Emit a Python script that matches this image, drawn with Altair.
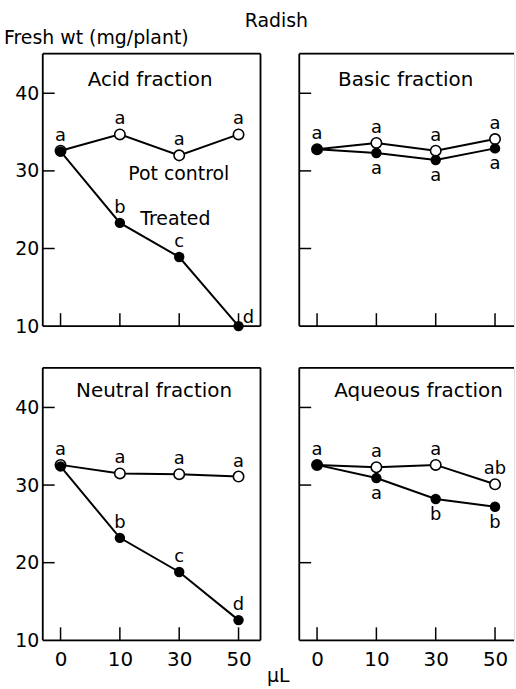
import altair as alt
import pandas as pd

# ---------------- data ----------------
doses = ["0", "10", "30", "50"]
y_tick_values = [20, 30, 40]
y_label_values = [10, 20, 30, 40]

panel_titles = ["Acid fraction", "Basic fraction", "Neutral fraction", "Aqueous fraction"]

acid_control = [32.6, 34.7, 32.0, 34.7]
acid_treated = [32.5, 23.3, 18.9, 10.0]
acid_control_letters = ["a", "a", "a", "a"]
acid_treated_letters = ["", "b", "c", "d"]
acid_treated_place = ["above", "above", "above", "right"]

basic_control = [32.8, 33.6, 32.6, 34.1]
basic_treated = [32.8, 32.3, 31.4, 32.9]
basic_control_letters = ["a", "a", "a", "a"]
basic_treated_letters = ["", "a", "a", "a"]
basic_treated_place = ["below", "below", "below", "below"]

neutral_control = [32.6, 31.5, 31.4, 31.1]
neutral_treated = [32.4, 23.2, 18.8, 12.6]
neutral_control_letters = ["a", "a", "a", "a"]
neutral_treated_letters = ["", "b", "c", "d"]
neutral_treated_place = ["above", "above", "above", "above"]

aqueous_control = [32.6, 32.3, 32.6, 30.1]
aqueous_treated = [32.6, 30.9, 28.2, 27.2]
aqueous_control_letters = ["a", "a", "a", "ab"]
aqueous_treated_letters = ["", "a", "b", "b"]
aqueous_treated_place = ["below", "below", "below", "below"]

series_names = ["Pot control", "Treated"]

# ---------------- layout ----------------
FONT = "DejaVu Sans"
W_L, W_R, H = 219, 216, 274
X_DOM_L = [-0.3, 3.37]
X_DOM_R = [-0.3, 3.32]
Y_DOM = [10, 45.1]
one = pd.DataFrame({"k": [0]})
label_expr = "[" + ",".join("'%s'" % d for d in doses) + "][datum.value]"


def anchor(x, y):
    # tiny white rule that pins the page bounds
    return alt.Chart(one).mark_rule(color="white", strokeWidth=0.01).encode(
        x=alt.value(x), x2=alt.value(x), y=alt.value(y), y2=alt.value(y))


def panel(title, title_x, title_y, control, treated, c_letters, t_letters, t_place,
          w, x_dom, show_x, show_y, right_border, extras=()):
    rows = []
    for i in range(len(doses)):
        rows.append(dict(i=i, series=series_names[0], v=control[i],
                         letter=c_letters[i], place="above"))
        rows.append(dict(i=i, series=series_names[1], v=treated[i],
                         letter=t_letters[i], place=t_place[i]))
    df = pd.DataFrame(rows)
    xs = alt.Scale(domain=x_dom, nice=False, zero=False)
    ys = alt.Scale(domain=Y_DOM, nice=False, zero=False)
    x_axis = alt.Axis(values=[0, 1, 2, 3], labelExpr=label_expr, ticks=False, domain=False,
                      grid=False, title=None, labelFontSize=20, labelColor="black",
                      labelPadding=9, labelFont=FONT) if show_x else None
    y_axis = alt.Axis(values=y_label_values, ticks=False, domain=False, grid=False,
                      title=None, labelFontSize=19, labelColor="black", labelPadding=4,
                      labelFont=FONT) if show_y else None

    base = alt.Chart(df).encode(
        x=alt.X("i:Q", scale=xs, axis=x_axis),
        y=alt.Y("v:Q", scale=ys, axis=y_axis),
    )
    lines = base.mark_line(color="black", strokeWidth=2).encode(detail="series:N")
    ctrl = base.transform_filter(alt.datum.series == series_names[0]).mark_circle(
        size=110, fill="white", stroke="black", strokeWidth=1.6, opacity=1)
    trt = base.transform_filter(alt.datum.series == series_names[1]).mark_circle(
        size=110, color="black", opacity=1)

    letter_layers = []
    offsets = {"above": (0, -15), "below": (0, 16), "right": (10, -8)}
    for p, (dx, dy) in offsets.items():
        letter_layers.append(
            base.transform_filter((alt.datum.place == p) & (alt.datum.letter != ""))
            .mark_text(dx=dx, dy=dy, fontSize=18, font=FONT, color="black")
            .encode(text="letter:N")
        )

    yticks = alt.Chart(pd.DataFrame({"v": y_tick_values})).mark_rule(
        color="black", strokeWidth=1.5).encode(
        y=alt.Y("v:Q", scale=ys, axis=y_axis), x=alt.value(0), x2=alt.value(12))
    xticks = alt.Chart(pd.DataFrame({"i": list(range(len(doses)))})).mark_rule(
        color="black", strokeWidth=1.5).encode(
        x=alt.X("i:Q", scale=xs, axis=x_axis), y=alt.value(H), y2=alt.value(H - 13))

    border = [
        alt.Chart(one).mark_rule(color="black", strokeWidth=1.8).encode(
            x=alt.value(0), y=alt.value(0), y2=alt.value(H)),
        alt.Chart(one).mark_rule(color="black", strokeWidth=1.8).encode(
            x=alt.value(0), x2=alt.value(w), y=alt.value(0)),
        alt.Chart(one).mark_rule(color="black", strokeWidth=1.8).encode(
            x=alt.value(0), x2=alt.value(w), y=alt.value(H)),
    ]
    if right_border:
        border.append(alt.Chart(one).mark_rule(color="black", strokeWidth=1.8).encode(
            x=alt.value(w), y=alt.value(0), y2=alt.value(H)))

    ttl = alt.Chart(one).mark_text(fontSize=20, font=FONT, color="black").encode(
        x=alt.value(title_x), y=alt.value(title_y), text=alt.value(title))

    layers = [lines] + border + [yticks, xticks, ctrl, trt] + letter_layers + [ttl] + list(extras)
    return alt.layer(*layers).properties(width=w, height=H)


top_extras = [
    alt.Chart(one).mark_text(fontSize=19, font=FONT, align="left", color="black").encode(
        x=alt.value(86), y=alt.value(121), text=alt.value(series_names[0])),
    alt.Chart(one).mark_text(fontSize=19, font=FONT, align="left", color="black").encode(
        x=alt.value(98), y=alt.value(166), text=alt.value(series_names[1])),
    alt.Chart(one).mark_text(fontSize=19, font=FONT, color="black").encode(
        x=alt.value(235), y=alt.value(-33), text=alt.value("Radish")),
    alt.Chart(one).mark_text(fontSize=19, font=FONT, align="left", color="black").encode(
        x=alt.value(-39), y=alt.value(-16), text=alt.value("Fresh wt (mg/plant)")),
    anchor(-42, -51),
]
bottom_extras = [
    alt.Chart(one).mark_text(fontSize=19, font=FONT, color="black").encode(
        x=alt.value(237), y=alt.value(310), text=alt.value("\u03bcL")),
]
bottom_right_extras = [anchor(W_R, H + 48)]

p1 = panel(panel_titles[0], 108, 26, acid_control, acid_treated, acid_control_letters,
           acid_treated_letters, acid_treated_place, W_L, X_DOM_L, False, True, True, top_extras)
p2 = panel(panel_titles[1], 107, 26, basic_control, basic_treated, basic_control_letters,
           basic_treated_letters, basic_treated_place, W_R, X_DOM_R, False, False, False)
p3 = panel(panel_titles[2], 112, 23, neutral_control, neutral_treated, neutral_control_letters,
           neutral_treated_letters, neutral_treated_place, W_L, X_DOM_L, True, True, True, bottom_extras)
p4 = panel(panel_titles[3], 120, 23, aqueous_control, aqueous_treated, aqueous_control_letters,
           aqueous_treated_letters, aqueous_treated_place, W_R, X_DOM_R, True, False, False,
           bottom_right_extras)

chart = alt.concat(p1, p2, p3, p4, columns=2, spacing={"row": 42, "column": 39},
                   bounds="flush").properties(
    padding=0,
    background="white",
).configure_view(strokeWidth=0).configure(font=FONT)

chart.save("out.html", embed_options={"renderer": "svg", "actions": False})
